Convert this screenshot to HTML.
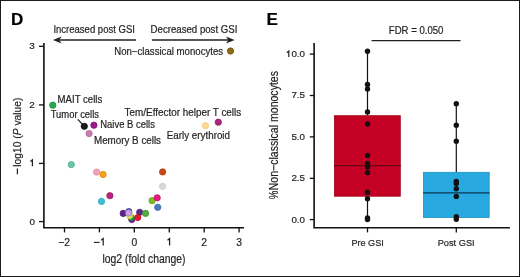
<!DOCTYPE html>
<html><head><meta charset="utf-8">
<style>
html,body{margin:0;padding:0;background:#fff;}
svg{display:block;will-change:transform;}
text{font-family:"Liberation Sans",sans-serif;fill:#231f20;stroke:#231f20;stroke-width:0.2px;}
.lb{font-size:10px;}
.te{font-size:9.8px;}
.tk{font-size:10.3px;}
.tt{font-size:12.4px;}
.pn{font-size:17px;font-weight:bold;fill:#000;stroke:#000;}
</style></head><body>
<svg width="520" height="277" viewBox="0 0 520 277">
<rect x="0" y="0" width="520" height="277" fill="#fff"/>
<rect x="0.5" y="0.5" width="519" height="276" fill="none" stroke="#1a1a1a" stroke-width="1"/>

<!-- Panel labels -->
<text class="pn" x="11" y="24.5">D</text>
<text class="pn" x="266.6" y="24.6">E</text>

<!-- ===== Panel D ===== -->
<text class="lb" style="font-size:10px" x="53.4" y="33.1" textLength="81.5" lengthAdjust="spacingAndGlyphs">Increased post GSI</text>
<text class="lb" style="font-size:10px" x="150.6" y="33.1" textLength="86.8" lengthAdjust="spacingAndGlyphs">Decreased post GSI</text>
<g stroke="#231f20" stroke-width="1.7" fill="none">
<line x1="58" y1="40" x2="136" y2="40"/>
<line x1="151.9" y1="40" x2="229" y2="40"/>
</g>
<path d="M53 40 L61.6 36.4 L59.2 40 L61.6 43.6 Z" fill="#231f20"/>
<path d="M234.6 40 L226 36.4 L228.4 40 L226 43.6 Z" fill="#231f20"/>

<!-- axes -->
<g stroke="#111" stroke-width="1.6" fill="none" stroke-linecap="square">
<polyline points="43.9,43.9 43.9,227.8 243.2,227.8"/>
</g>
<g stroke="#111" stroke-width="1.3">
<line x1="39" y1="46.3" x2="43.9" y2="46.3"/>
<line x1="39" y1="104.9" x2="43.9" y2="104.9"/>
<line x1="39" y1="163.4" x2="43.9" y2="163.4"/>
<line x1="39" y1="221.6" x2="43.9" y2="221.6"/>
<line x1="64.5" y1="227.8" x2="64.5" y2="232.4"/>
<line x1="99.4" y1="227.8" x2="99.4" y2="232.4"/>
<line x1="134.3" y1="227.8" x2="134.3" y2="232.4"/>
<line x1="169.3" y1="227.8" x2="169.3" y2="232.4"/>
<line x1="204.2" y1="227.8" x2="204.2" y2="232.4"/>
<line x1="239.1" y1="227.8" x2="239.1" y2="232.4"/>
</g>
<g class="tk" text-anchor="end" style="font-size:9.9px">
<text x="34.7" y="49.2">3</text>
<text x="34.7" y="107.8">2</text>
<text x="34.9" y="224.7">0</text>
</g>
<g class="tk" text-anchor="middle">
<text x="64" y="245.6">−2</text>
<text x="134.4" y="245.6">0</text>
<text x="204.2" y="245.6">2</text>
<text x="239.1" y="245.6">3</text>
</g>
<g stroke="#231f20" stroke-width="1.25" fill="none" stroke-linejoin="miter">
<path d="M32.4 166.2 V159.8 L30.4 161.4"/>
<path d="M169.6 245.6 V238.6 L167.5 240.3"/>
<path d="M103.2 245.6 V238.6 L101.1 240.3"/>
<path d="M93.9 242.4 H99.6" stroke-width="1.1"/>
</g>
<text class="tt" x="102.5" y="263.2" textLength="83" lengthAdjust="spacingAndGlyphs">log2 (fold change)</text>
<line x1="17.4" y1="168.4" x2="17.4" y2="174.3" stroke="#231f20" stroke-width="1.2"/>
<text class="tt" style="font-size:11.8px" transform="translate(20.8,166.7) rotate(-90)" textLength="69.1" lengthAdjust="spacingAndGlyphs">log10 (<tspan font-style="italic">P</tspan> value)</text>

<!-- point labels -->
<g class="lb" style="font-size:10px">
<text x="114.3" y="54.8" textLength="108.8" lengthAdjust="spacingAndGlyphs">Non−classical monocytes</text>
<text x="57.6" y="102.7" textLength="44.7" lengthAdjust="spacingAndGlyphs">MAIT cells</text>
<text x="50.7" y="117.8" textLength="48.3" lengthAdjust="spacingAndGlyphs">Tumor cells</text>
<text x="100.3" y="128.4" textLength="54.6" lengthAdjust="spacingAndGlyphs">Naive B cells</text>
<text x="94" y="144.0" textLength="67" lengthAdjust="spacingAndGlyphs">Memory B cells</text>
<text x="124.6" y="115.8" textLength="116.6" lengthAdjust="spacingAndGlyphs">Tem/Effector helper T cells</text>
<text x="166.8" y="139.1" textLength="63.2" lengthAdjust="spacingAndGlyphs">Early erythroid</text>
</g>
<line x1="77.8" y1="119.4" x2="83.5" y2="125.4" stroke="#111" stroke-width="1.1"/>

<!-- points -->
<g stroke-width="0.75">
<circle cx="71.3" cy="164.6" r="3.15" fill="#6cc7aa" stroke="#48ad8e"/>
<circle cx="96.6" cy="172.1" r="3.15" fill="#f3a3b7" stroke="#e38aa0"/>
<circle cx="103.1" cy="174.5" r="3.15" fill="#f6a31a" stroke="#dc8a06"/>
<circle cx="109.9" cy="195.7" r="3.15" fill="#b8247e" stroke="#961a66"/>
<circle cx="101.5" cy="201.4" r="3.15" fill="#3dbdd6" stroke="#25a2bd"/>
<circle cx="162.6" cy="171.9" r="3.15" fill="#c94a18" stroke="#a63a10"/>
<circle cx="162.6" cy="186.4" r="3.15" fill="#d9d9d9" stroke="#c8c8c8"/>
<circle cx="152.1" cy="200.7" r="3.15" fill="#7dbc26" stroke="#5e9a18"/>
<circle cx="157.2" cy="197.8" r="3.15" fill="#e8187f" stroke="#c21066"/>
<circle cx="157.7" cy="207.3" r="3.15" fill="#4a7ac0" stroke="#3460a6"/>
<circle cx="139.7" cy="212.3" r="3.15" fill="#5b2a8e" stroke="#461f72"/>
<circle cx="137.7" cy="217.6" r="3.15" fill="#e8162a" stroke="#c40e20"/>
<circle cx="145.6" cy="213.4" r="3.15" fill="#52ae3e" stroke="#3c922c"/>
<circle cx="131.8" cy="219.6" r="3.15" fill="#5a1e88" stroke="#8a2a9a"/>
<circle cx="131.2" cy="217.5" r="3.15" fill="#2e9a36" stroke="#1f7d28"/>
<circle cx="129.6" cy="215.6" r="3.15" fill="#dfe25e" stroke="#c8cc40"/>
<circle cx="128.8" cy="211.6" r="3.15" fill="#44479c" stroke="#333680"/>
<circle cx="123.2" cy="213.4" r="3.15" fill="#5c2290" stroke="#471a72"/>
<circle cx="128.7" cy="212.9" r="3.15" fill="#c9a3e2" stroke="#a47cc8"/>
<circle cx="205.5" cy="125.7" r="3.15" fill="#fbd890" stroke="#f3c679"/>
<circle cx="218.3" cy="122.2" r="3.15" fill="#b0237f" stroke="#8c1a66"/>
<circle cx="89.1" cy="133.6" r="3.15" fill="#c979b4" stroke="#b0609c"/>
<circle cx="84.3" cy="126.3" r="3.15" fill="#1a1a1a" stroke="#0a0a0a"/>
<circle cx="93.9" cy="125.2" r="3.15" fill="#a0188e" stroke="#7c1070"/>
<circle cx="52.8" cy="105.2" r="3.15" fill="#26aa4c" stroke="#178a3a"/>
<circle cx="230.5" cy="51.0" r="3.15" fill="#8d6d18" stroke="#6b5210"/>
</g>

<!-- ===== Panel E ===== -->
<text class="lb" style="font-size:10.2px" x="388.8" y="33.9" textLength="54.6" lengthAdjust="spacingAndGlyphs">FDR = 0.050</text>
<line x1="371.6" y1="40.7" x2="460.5" y2="40.7" stroke="#231f20" stroke-width="1.3"/>

<g stroke="#111" stroke-width="1.6" fill="none" stroke-linecap="square">
<polyline points="314.1,43.9 314.1,227.8 509.1,227.8"/>
</g>
<g stroke="#111" stroke-width="1.3">
<line x1="309.8" y1="54.1" x2="314.1" y2="54.1"/>
<line x1="309.8" y1="95.5" x2="314.1" y2="95.5"/>
<line x1="309.8" y1="136.9" x2="314.1" y2="136.9"/>
<line x1="309.8" y1="178.3" x2="314.1" y2="178.3"/>
<line x1="309.8" y1="219.6" x2="314.1" y2="219.6"/>
<line x1="367.5" y1="227.8" x2="367.5" y2="232.4"/>
<line x1="456.3" y1="227.8" x2="456.3" y2="232.4"/>
</g>
<g class="te" text-anchor="end">
<text x="305" y="57">0.0</text>
<text x="305" y="98.4">7.5</text>
<text x="305" y="139.8">5.0</text>
<text x="305" y="181.1">2.5</text>
<text x="305" y="222.5">0.0</text>
</g>
<path d="M288.8 57 V51.1 L286.8 52.7" stroke="#231f20" stroke-width="1.2" fill="none"/>
<text class="lb" style="font-size:9.7px" x="351.4" y="245.5" textLength="32.4" lengthAdjust="spacingAndGlyphs">Pre GSI</text>
<text class="lb" style="font-size:9.7px" x="437.7" y="245.5" textLength="37" lengthAdjust="spacingAndGlyphs">Post GSI</text>
<text class="tt" transform="translate(278.3,199.3) rotate(-90)" textLength="8.6" lengthAdjust="spacingAndGlyphs">%</text>
<text class="tt" transform="translate(278.3,190.3) rotate(-90)" textLength="119.3" lengthAdjust="spacingAndGlyphs">Non−classical monocytes</text>

<!-- whiskers -->
<g stroke="#111" stroke-width="1.2">
<line x1="367.5" y1="51.2" x2="367.5" y2="115.3"/>
<line x1="367.5" y1="196.6" x2="367.5" y2="219.5"/>
<line x1="456.3" y1="103.7" x2="456.3" y2="171.9"/>
</g>
<rect x="334.4" y="115.7" width="65.9" height="80.5" fill="#c40124" stroke="#a0001a" stroke-width="0.8"/>
<rect x="423.5" y="172.3" width="65.7" height="45.2" fill="#28a9e0" stroke="#1e8fc2" stroke-width="0.8"/>
<line x1="334" y1="165.6" x2="400.7" y2="165.6" stroke="#6e0016" stroke-width="1.3"/>
<line x1="423.1" y1="192.8" x2="489.6" y2="192.8" stroke="#073a56" stroke-width="1.3"/>

<g fill="#111">
<circle cx="367.5" cy="51.2" r="2.7"/>
<circle cx="367.5" cy="84.5" r="2.7"/>
<circle cx="367.5" cy="89" r="2.7"/>
<circle cx="367.5" cy="112" r="2.7"/>
<circle cx="367.5" cy="124" r="2.7"/>
<circle cx="367.5" cy="155.4" r="2.7"/>
<circle cx="367.5" cy="163.5" r="2.7"/>
<circle cx="367.5" cy="167" r="2.7"/>
<circle cx="367.5" cy="172.6" r="2.7"/>
<circle cx="367.5" cy="192.3" r="2.7"/>
<circle cx="367.5" cy="198.7" r="2.7"/>
<circle cx="367.5" cy="217.9" r="2.7"/>
<circle cx="367.5" cy="219.5" r="2.7"/>
<circle cx="456.3" cy="103.7" r="2.7"/>
<circle cx="456.3" cy="125.3" r="2.7"/>
<circle cx="456.3" cy="141.2" r="2.7"/>
<circle cx="456.3" cy="181.4" r="2.7"/>
<circle cx="456.3" cy="183.5" r="2.7"/>
<circle cx="456.3" cy="188.8" r="2.7"/>
<circle cx="456.3" cy="196.4" r="2.7"/>
<circle cx="456.3" cy="216.6" r="2.7"/>
<circle cx="456.3" cy="219.3" r="2.7"/>
</g>
</svg>
</body></html>
